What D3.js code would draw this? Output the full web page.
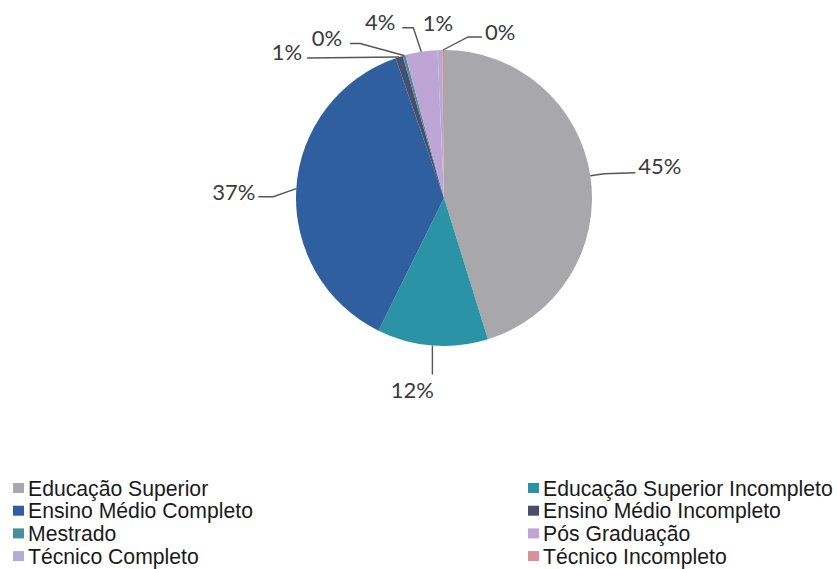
<!DOCTYPE html>
<html>
<head>
<meta charset="utf-8">
<script src="https://cdn.jsdelivr.net/npm/d3@7"></script>
<style>
  html, body { margin: 0; padding: 0; background: #ffffff; }
  svg { display: block; }
</style>
</head>
<body>
<svg id="chart" width="837" height="569"></svg>
<script>
// Escolaridade – share of respondents by education level (percent)
const categories = [
  "Educação Superior",
  "Educação Superior Incompleto",
  "Ensino Médio Completo",
  "Ensino Médio Incompleto",
  "Mestrado",
  "Pós Graduação",
  "Técnico Completo",
  "Técnico Incompleto"
];
const values = [45.2, 12.1, 37.4, 0.8, 0.3, 3.5, 0.5, 0.2];
const colors = ["#a8a8aa", "#2a93a6", "#2f5f9f", "#4a4e6e", "#4a8e9c", "#bfa5d6", "#b4acd8", "#d9909a"];

// Leader-line geometry per slice, relative to the slice's outer-edge midpoint
const labelLayout = [
  { elbow: [14, -2],   end: [45, -3],   anchor: "start",  tx: 3,   ty: 1,   line: true },
  { elbow: [0, 15],    end: [0, 29],    anchor: "middle", tx: -20, ty: 23,  line: true },
  { elbow: [-23, 8],   end: [-38, 8],   anchor: "end",    tx: -3,  ty: 3,   line: true },
  { elbow: [-46, 0.5], end: [-92, 1],   anchor: "end",    tx: -5,  ty: 2,   line: true },
  { elbow: [-44, -12], end: [-54, -12], anchor: "end",    tx: -8,  ty: 2,   line: true },
  { elbow: [-8, -24],  end: [-19, -24], anchor: "end",    tx: -7,  ty: 2,   line: true },
  { elbow: [0, 0],     end: [0, 0],     anchor: "middle", tx: -2,  ty: -19, line: false },
  { elbow: [25, -13],  end: [39, -13],  anchor: "start",  tx: 3,   ty: 3,   line: true }
];

const svg = d3.select("#chart");
const cx = 444, cy = 198, radius = 148;

const data = categories.map((c, i) => ({ name: c, value: values[i], color: colors[i], layout: labelLayout[i] }));
const total = d3.sum(values);
const fmt = v => Math.round(v / total * 100) + "%";

const pie = d3.pie().sort(null).value(d => d.value);
const arc = d3.arc().innerRadius(0).outerRadius(radius);
const edge = d3.arc().innerRadius(radius).outerRadius(radius);

const g = svg.append("g").attr("transform", `translate(${cx},${cy})`);
const arcs = pie(data);

g.selectAll("path.slice")
  .data(arcs)
  .join("path")
  .attr("class", "slice")
  .attr("d", arc)
  .attr("fill", d => d.data.color);

// Leader lines
g.selectAll("polyline.leader")
  .data(arcs.filter(d => d.data.layout.line))
  .join("polyline")
  .attr("class", "leader")
  .attr("fill", "none")
  .attr("stroke", "#555555")
  .attr("stroke-width", 1.4)
  .attr("points", d => {
    const [ax, ay] = edge.centroid(d);
    const L = d.data.layout;
    return [[ax, ay], [ax + L.elbow[0], ay + L.elbow[1]], [ax + L.end[0], ay + L.end[1]]]
      .map(p => p.join(",")).join(" ");
  });

// Percentage labels
g.selectAll("text.pct")
  .data(arcs)
  .join("text")
  .attr("class", "pct")
  .attr("x", d => edge.centroid(d)[0] + d.data.layout.end[0] + d.data.layout.tx)
  .attr("y", d => edge.centroid(d)[1] + d.data.layout.end[1] + d.data.layout.ty)
  .attr("text-anchor", d => d.data.layout.anchor)
  .attr("font-family", "Lato, 'Open Sans', sans-serif")
  .attr("font-size", 22)
  .attr("fill", "#3a3a3a")
  .text(d => fmt(d.data.value));

// Legend: two columns, row-major
const legendX = [13, 528];
const legendY0 = 488, legendStep = 22.7;
const legend = svg.append("g");
const items = legend.selectAll("g.item")
  .data(data)
  .join("g")
  .attr("class", "item")
  .attr("transform", (d, i) => `translate(${legendX[i % 2]},${legendY0 + Math.floor(i / 2) * legendStep})`);

items.append("rect")
  .attr("x", 0).attr("y", -5)
  .attr("width", 11).attr("height", 10)
  .attr("fill", d => d.color);

items.append("text")
  .attr("x", 15)
  .attr("y", 7.5)
  .attr("font-family", "'Liberation Sans', Arial, sans-serif")
  .attr("font-size", 21.2)
  .attr("fill", "#1a1a1a")
  .text(d => d.name);
</script>
</body>
</html>
